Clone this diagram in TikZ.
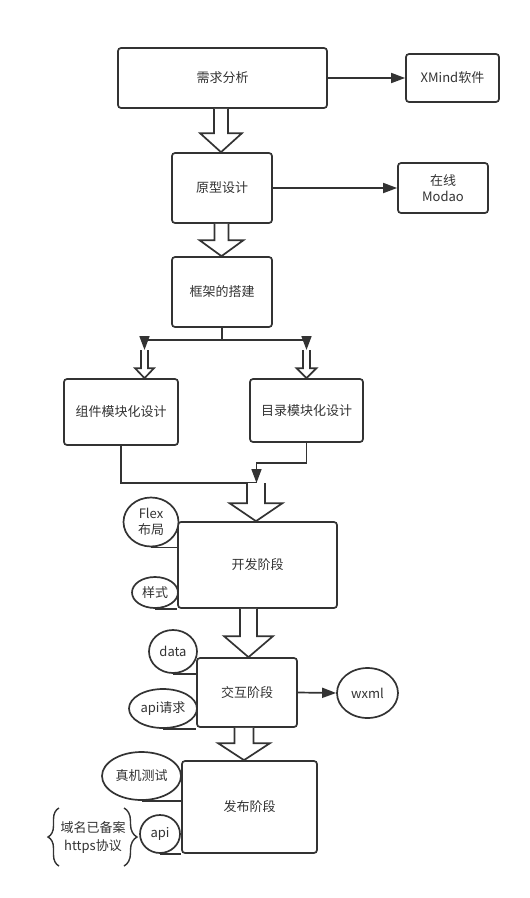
\documentclass[tikz,border=0pt]{standalone}
\usepackage{fontspec}
\setmainfont{Noto Sans CJK SC}
\usetikzlibrary{arrows.meta,shapes.geometric,calc,decorations.pathreplacing}
\definecolor{ink}{HTML}{333333}
\newcommand\blkarrow[6]{\path[blk] let \p1=(#2), \p2=(#3) in (#1pt-#4pt,\y1) -- (#1pt-#4pt,\y2+#6pt) -- (#1pt-#5pt,\y2+#6pt) -- (#1pt,\y2) -- (#1pt+#5pt,\y2+#6pt) -- (#1pt+#4pt,\y2+#6pt) -- (#1pt+#4pt,\y1);}
\begin{document}
\begin{tikzpicture}[x=1pt,y=-1pt,
 box/.style={draw=ink,line width=1.7pt,rounded corners=3pt,fill=white,inner sep=0pt,align=center,text=ink},
 oval/.style={draw=ink,line width=1.7pt,ellipse,inner sep=0pt,align=center,text=ink,fill=white},
 conn/.style={draw=ink,line width=1.7pt},
 arr/.style={conn,-{Triangle[length=14pt,width=10pt]}},
 blk/.style={draw=ink,line width=1.7pt,fill=white,line join=miter},
 font=\fontsize{13}{16}\selectfont]
\useasboundingbox[fill=white] (0,0) rectangle (530,898);
% boxes
\node[box,minimum width=209pt,minimum height=60pt] (req) at (222.5,78) {需求分析};
\node[box,minimum width=93pt,minimum height=48pt] (xmind) at (452.5,78) {XMind软件};
\node[box,minimum width=100pt,minimum height=70pt] (proto) at (222,188) {原型设计};
\node[box,minimum width=90pt,minimum height=50pt] (modao) at (443,188) {在线\\Modao};
\node[box,minimum width=100pt,minimum height=70pt] (frame) at (222,292) {框架的搭建};
\node[box,minimum width=114pt,minimum height=66pt] (comp) at (121,412) {组件模块化设计};
\node[box,minimum width=113pt,minimum height=63pt] (dir) at (306.5,410.5) {目录模块化设计};
\node[box,minimum width=159pt,minimum height=86pt] (dev) at (257.5,565) {开发阶段};
\node[box,minimum width=100pt,minimum height=69pt] (inter) at (247,692.5) {交互阶段};
\node[box,minimum width=135pt,minimum height=92pt] (pub) at (249.5,807) {发布阶段};
% ellipses
\node[oval,minimum width=55pt,minimum height=49pt] (flex) at (151,522) {Flex\\布局};
\node[oval,minimum width=46pt,minimum height=31pt] (style) at (155,592.5) {样式};
\node[oval,minimum width=48pt,minimum height=43pt] (data) at (173,651.5) {data};
\node[oval,minimum width=68pt,minimum height=39pt] (apireq) at (163,708.5) {api请求};
\node[oval,minimum width=61pt,minimum height=50pt] (wxml) at (367.5,693) {wxml};
\node[oval,minimum width=79pt,minimum height=48pt] (zhenji) at (141.5,776) {真机测试};
\node[oval,minimum width=40pt,minimum height=38pt] (api) at (160,834) {api};
\node[text=ink,align=center,inner sep=0pt,font=\fontsize{13}{18}\selectfont] (dom) at (93,837) {域名已备案\\https协议};
% side arrows
\draw[arr] (req.east) -- (xmind.west);
\draw[arr] (proto.east) -- (modao.west);
\draw[arr] (inter.east) -- (wxml.west);
% split
\coordinate (sL) at (144.5,350);
\coordinate (sR) at (306.5,350);
\draw[arr] (frame.south) -- ++(0,12) -| (sL);
\draw[arr] (frame.south) -- ++(0,12) -| (sR);
% merge
\coordinate (merge) at (256.5,483);
\draw[conn] (comp.south) |- (merge);
\draw[arr] (dir.south) -- ++(0,20) -| (merge);
% block arrows
\blkarrow{221}{req.south}{proto.north}{7}{21}{19}
\blkarrow{221.5}{proto.south}{frame.north}{7}{22}{16}
\blkarrow{144.5}{sL}{comp.north}{3.5}{9.5}{10}
\blkarrow{306.5}{sR}{dir.north}{3.5}{10}{10}
\blkarrow{256}{merge}{dev.north}{9}{26.5}{18}
\blkarrow{248.5}{dev.south}{inter.north}{8.5}{24.5}{21}
\blkarrow{244}{inter.south}{pub.north}{9.5}{26}{17}
% ellipse connectors
\draw[conn] (flex.south) -- (flex.south -| dev.west);
\draw[conn] (style.south) -- (style.south -| dev.west);
\draw[conn] (data.south) -- (data.south -| inter.west);
\draw[conn] (apireq.south) -- (apireq.south -| inter.west);
\draw[conn] (zhenji.south) -- (zhenji.south -| pub.west);
\draw[conn] (api.south) -- (api.south -| pub.west);
% braces
\draw[conn,line width=1.4pt,decorate,decoration={brace,amplitude=11pt}] (59,866) -- (59,808);
\draw[conn,line width=1.4pt,decorate,decoration={brace,amplitude=13pt}] (124,808) -- (124,866);
\end{tikzpicture}
\end{document}
